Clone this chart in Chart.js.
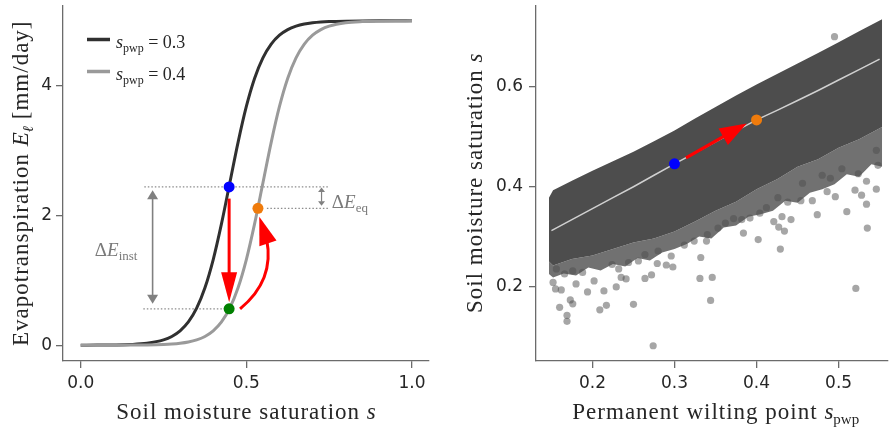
<!DOCTYPE html>
<html>
<head>
<meta charset="utf-8">
<script src="https://cdn.jsdelivr.net/npm/chart.js@4/dist/chart.umd.min.js"></script>
<style>
  html, body { margin: 0; padding: 0; background: #fff; }
  #wrap { position: relative; width: 893px; height: 438px; overflow: hidden; }
  #c1 { position: absolute; left: 0; top: 0; }
  #c2 { position: absolute; left: 440px; top: 0; }
</style>
</head>
<body>
<div id="wrap">
  <canvas id="c1" width="440" height="438"></canvas>
  <canvas id="c2" width="453" height="438"></canvas>
</div>
<script>
// ---- left panel: evapotranspiration curves ----
const sGrid = [0, 0.05, 0.1, 0.15, 0.2, 0.25, 0.275, 0.3, 0.325, 0.35, 0.375, 0.4, 0.425, 0.45, 0.475,
  0.5, 0.525, 0.55, 0.575, 0.6, 0.625, 0.65, 0.675, 0.7, 0.725, 0.75, 0.8, 0.85, 0.9, 0.95, 1.0];
const evapPwp03 = [0.0005, 0.0014, 0.0038, 0.0106, 0.0296, 0.0816, 0.1346, 0.221, 0.358, 0.570, 0.884, 1.320, 1.873, 2.5, 3.127,
  3.680, 4.116, 4.430, 4.642, 4.779, 4.865, 4.918, 4.951, 4.970, 4.982, 4.989, 4.996, 4.999, 5.0, 5.0, 5.0];
const evapPwp04 = [0.0001, 0.0002, 0.0005, 0.0014, 0.0038, 0.0106, 0.0177, 0.0296, 0.0492, 0.0816, 0.1346, 0.221, 0.358, 0.570, 0.884,
  1.320, 1.873, 2.5, 3.127, 3.680, 4.116, 4.430, 4.642, 4.779, 4.865, 4.918, 4.970, 4.989, 4.996, 4.999, 5.0];
const leftXTicks = [0, 0.5, 1.0];
const leftXLabels = ['0.0', '0.5', '1.0'];
const leftYTicks = [0, 2, 4];
const leftYLabels = ['0', '2', '4'];

// marked states: before (blue), instant (green), equilibrium (orange)
const markS = [0.448, 0.448, 0.535];
const markE = [2.44, 0.56, 2.11];
const markColors = ['#0000ff', '#008000', '#ef7b0c'];

// dotted guide lines [s0, s1, E]
const guideTop = [0.192, 0.748, 2.44];
const guideLow = [0.189, 0.448, 0.56];
const guideEq = [0.562, 0.748, 2.11];

// difference arrows
const instArrowS = 0.217, instArrowE = [2.39, 0.64];
const eqArrowS = 0.727, eqArrowE = [2.43, 2.15];
const dropArrow = [0.448, 2.26, 0.448, 0.66];        // s0, E0, s1, E1
const recoverArrow = [0.481, 0.56, 0.614, 1.116, 0.539, 1.98]; // start, control, tip

// ---- right panel: s vs s_pwp scatter ----
const cloudX = [0.147, 0.152, 0.175, 0.2, 0.225, 0.25, 0.275, 0.3, 0.325, 0.35, 0.375, 0.4, 0.425, 0.45, 0.475, 0.5, 0.525, 0.553];
const cloudTop = [0.378, 0.393, 0.412, 0.432, 0.451, 0.470, 0.491, 0.513, 0.537, 0.560, 0.583, 0.605, 0.626, 0.647, 0.668, 0.690, 0.712, 0.736];
const cloudLow = [0.250, 0.242, 0.255, 0.262, 0.275, 0.288, 0.296, 0.310, 0.330, 0.352, 0.370, 0.395, 0.415, 0.440, 0.455, 0.478, 0.495, 0.520];
// ragged lower edge of the cloud
const fringeX = [0.147, 0.152, 0.165, 0.18, 0.195, 0.21, 0.225, 0.24, 0.255, 0.27, 0.285, 0.3, 0.315, 0.33, 0.345,
  0.36, 0.375, 0.39, 0.405, 0.42, 0.435, 0.45, 0.465, 0.48, 0.495, 0.51, 0.525, 0.54, 0.553];
const fringeY = [0.225, 0.218, 0.226, 0.222, 0.238, 0.232, 0.245, 0.240, 0.257, 0.252, 0.268, 0.275, 0.285, 0.300, 0.296,
  0.318, 0.322, 0.340, 0.345, 0.352, 0.372, 0.368, 0.388, 0.395, 0.405, 0.425, 0.420, 0.445, 0.440];
const outlierX = [0.152, 0.155, 0.162, 0.160, 0.169, 0.169, 0.173, 0.176, 0.180, 0.194, 0.209, 0.217, 0.214, 0.229,
  0.235, 0.241, 0.250, 0.264, 0.272, 0.274, 0.298, 0.290, 0.279, 0.331, 0.332, 0.312, 0.324, 0.176, 0.188, 0.202,
  0.166, 0.156, 0.232, 0.244, 0.256, 0.224, 0.264, 0.280, 0.296, 0.346, 0.344, 0.384, 0.402, 0.429, 0.434, 0.427,
  0.421, 0.442, 0.431, 0.474, 0.510, 0.535, 0.521, 0.534, 0.546, 0.548, 0.528, 0.520, 0.496, 0.486, 0.468, 0.454,
  0.438, 0.426, 0.412, 0.404, 0.392, 0.382, 0.372, 0.362, 0.353, 0.340, 0.339, 0.456, 0.490, 0.534, 0.524, 0.504,
  0.546, 0.480, 0.495];
const outlierY = [0.208, 0.195, 0.193, 0.158, 0.142, 0.130, 0.173, 0.165, 0.205, 0.189, 0.153, 0.162, 0.191, 0.199,
  0.218, 0.215, 0.164, 0.216, 0.223, 0.081, 0.239, 0.243, 0.246, 0.216, 0.258, 0.283, 0.291, 0.231, 0.228, 0.211,
  0.225, 0.235, 0.235, 0.248, 0.251, 0.244, 0.264, 0.271, 0.261, 0.218, 0.172, 0.307, 0.294, 0.275, 0.311, 0.319,
  0.330, 0.334, 0.340, 0.344, 0.350, 0.317, 0.196, 0.365, 0.395, 0.443, 0.383, 0.393, 0.380, 0.390, 0.372, 0.372,
  0.369, 0.378, 0.358, 0.347, 0.337, 0.334, 0.336, 0.327, 0.317, 0.304, 0.291, 0.407, 0.417, 0.411, 0.426, 0.436,
  0.473, 0.423, 0.701];
const medianX = [0.15, 0.175, 0.2, 0.225, 0.25, 0.275, 0.3, 0.325, 0.35, 0.375, 0.4, 0.425, 0.45, 0.475, 0.5, 0.525, 0.55];
const medianY = [0.312, 0.334, 0.356, 0.378, 0.400, 0.423, 0.446, 0.468, 0.490, 0.512, 0.534, 0.553, 0.573, 0.593, 0.614, 0.635, 0.656];
const pwpMarks = [0.3, 0.4];
const sMarks = [0.446, 0.534];
const shiftArrow = [0.314, 0.458, 0.388, 0.527];
const rightXTicks = [0.2, 0.3, 0.4, 0.5];
const rightYTicks = [0.2, 0.4, 0.6];

const AX = '#6b6b6b';
const SERIF = '"Liberation Serif", "DejaVu Serif", serif';
const SANS = '"DejaVu Sans", sans-serif';
const TITLE = '23px ' + SERIF, TITLE_IT = 'italic 23px ' + SERIF, TITLE_SUB = '15px ' + SERIF;

const pts = (xs, ys) => xs.map((v, i) => ({x: v, y: ys[i]}));

// draw text made of several pieces (italic, subscripts...)
function richText(ctx, parts, x, y, align, angle, color) {
  ctx.save();
  ctx.translate(x, y);
  if (angle) ctx.rotate(angle);
  ctx.textBaseline = 'alphabetic';
  ctx.textAlign = 'left';
  let w = 0;
  parts.forEach(p => {
    ctx.font = p.f;
    ctx.letterSpacing = p.ls || '0px';
    p.w = ctx.measureText(p.t).width;
    w += p.w;
  });
  let cx = align === 'center' ? -w / 2 : align === 'right' ? -w : 0;
  ctx.fillStyle = color || '#262626';
  parts.forEach(p => {
    ctx.font = p.f;
    ctx.letterSpacing = p.ls || '0px';
    ctx.fillText(p.t, cx, p.dy || 0);
    cx += p.w;
  });
  ctx.restore();
}

function arrowHead(ctx, tx, ty, ux, uy, len, hw) {
  const bx = tx - ux * len, by = ty - uy * len;
  ctx.beginPath();
  ctx.moveTo(tx, ty);
  ctx.lineTo(bx - uy * hw, by + ux * hw);
  ctx.lineTo(bx + uy * hw, by - ux * hw);
  ctx.closePath();
  ctx.fill();
}

function straightArrow(ctx, x0, y0, x1, y1, o) {
  const dx = x1 - x0, dy = y1 - y0, L = Math.hypot(dx, dy), ux = dx / L, uy = dy / L;
  ctx.save();
  ctx.strokeStyle = o.color; ctx.fillStyle = o.color; ctx.lineWidth = o.width;
  let sx = x0, sy = y0;
  if (o.both) { sx = x0 + ux * o.len * 0.9; sy = y0 + uy * o.len * 0.9; }
  ctx.beginPath();
  ctx.moveTo(sx, sy);
  ctx.lineTo(x1 - ux * o.len * 0.9, y1 - uy * o.len * 0.9);
  ctx.stroke();
  arrowHead(ctx, x1, y1, ux, uy, o.len, o.hw);
  if (o.both) arrowHead(ctx, x0, y0, -ux, -uy, o.len, o.hw);
  ctx.restore();
}

function curvedArrow(ctx, p0, c, p2, o) {
  const B = t => [(1 - t) * (1 - t) * p0[0] + 2 * (1 - t) * t * c[0] + t * t * p2[0],
                  (1 - t) * (1 - t) * p0[1] + 2 * (1 - t) * t * c[1] + t * t * p2[1]];
  let t = 1;
  while (t > 0 && Math.hypot(B(t)[0] - p2[0], B(t)[1] - p2[1]) < o.len * 0.85) t -= 0.005;
  const c1 = [p0[0] + (c[0] - p0[0]) * t, p0[1] + (c[1] - p0[1]) * t];
  const e = B(t);
  ctx.save();
  ctx.strokeStyle = o.color; ctx.fillStyle = o.color; ctx.lineWidth = o.width;
  ctx.beginPath();
  ctx.moveTo(p0[0], p0[1]);
  ctx.quadraticCurveTo(c1[0], c1[1], e[0], e[1]);
  ctx.stroke();
  const dx = p2[0] - e[0], dy = p2[1] - e[1], L = Math.hypot(dx, dy);
  arrowHead(ctx, p2[0], p2[1], dx / L, dy / L, o.len, o.hw);
  ctx.restore();
}

function axisOpts(min, max, tickVals, labels, size, pad) {
  return {
    type: 'linear', min: min, max: max,
    afterBuildTicks: s => { s.ticks = tickVals.map(v => ({value: v})); },
    afterFit: s => {
      if (s.isHorizontal()) s.height = size; else s.width = size;
      s.paddingTop = 0; s.paddingBottom = 0; s.paddingLeft = 0; s.paddingRight = 0;
    },
    ticks: {
      callback: (v, i) => labels[i],
      font: {family: SANS, size: 17}, color: '#262626', padding: pad,
      maxRotation: 0, autoSkip: false
    },
    grid: {display: true, drawOnChartArea: false, drawTicks: true, tickLength: 7, color: AX, lineWidth: 1.3},
    border: {display: true, color: AX, width: 1.3}
  };
}

const leftDeco = {
  id: 'leftDeco',
  afterDatasetsDraw(chart) {
    const {ctx, chartArea: a, scales: {x, y}} = chart;
    const X = v => x.getPixelForValue(v), Y = v => y.getPixelForValue(v);
    straightArrow(ctx, X(instArrowS), Y(instArrowE[0]), X(instArrowS), Y(instArrowE[1]),
      {color: '#808080', width: 1.6, len: 9, hw: 5.5, both: true});
    straightArrow(ctx, X(eqArrowS), Y(eqArrowE[0]), X(eqArrowS), Y(eqArrowE[1]),
      {color: '#808080', width: 1.2, len: 4.5, hw: 3.5, both: true});
    straightArrow(ctx, X(dropArrow[0]), Y(dropArrow[1]), X(dropArrow[2]), Y(dropArrow[3]),
      {color: '#ff0000', width: 3, len: 30, hw: 8});
    curvedArrow(ctx, [X(recoverArrow[0]), Y(recoverArrow[1])], [X(recoverArrow[2]), Y(recoverArrow[3])],
      [X(recoverArrow[4]), Y(recoverArrow[5])], {color: '#ff0000', width: 3, len: 28, hw: 9});

    richText(ctx, [{t: 'Δ', f: '19px ' + SERIF}, {t: 'E', f: 'italic 19px ' + SERIF},
      {t: 'inst', f: '13px ' + SERIF, dy: 4}], X(0.107), Y(1.48) + 7, 'center', 0, '#7a7a7a');
    richText(ctx, [{t: 'Δ', f: '19px ' + SERIF}, {t: 'E', f: 'italic 19px ' + SERIF},
      {t: 'eq', f: '13px ' + SERIF, dy: 4}], X(0.758), Y(2.23) + 7, 'left', 0, '#7a7a7a');

    // legend
    const leg = [['#303030', '0.3'], ['#9a9a9a', '0.4']];
    leg.forEach((l, i) => {
      const ly = a.top + 34 + i * 32;
      ctx.save();
      ctx.strokeStyle = l[0]; ctx.lineWidth = 3.5;
      ctx.beginPath(); ctx.moveTo(a.left + 24, ly); ctx.lineTo(a.left + 47, ly); ctx.stroke();
      ctx.restore();
      richText(ctx, [{t: 's', f: 'italic 18px ' + SERIF}, {t: 'pwp', f: '12px ' + SERIF, dy: 4},
        {t: ' = ' + l[1], f: '18px ' + SERIF}], a.left + 53, ly + 8, 'left', 0, '#262626');
    });
  },
  afterDraw(chart) {
    const {ctx, chartArea: a} = chart;
    richText(ctx, [{t: 'Soil moisture saturation ', f: TITLE, ls: '1px'}, {t: 's', f: TITLE_IT}],
      (a.left + a.right) / 2, a.bottom + 58, 'center', 0);
    richText(ctx, [{t: 'Evapotranspiration ', f: TITLE, ls: '1px'}, {t: 'E', f: TITLE_IT},
      {t: 'ℓ', f: 'italic ' + TITLE_SUB, dy: 5}, {t: ' [mm/day]', f: TITLE, ls: '1px'}],
      a.left - 35, (a.top + a.bottom) / 2, 'center', -Math.PI / 2);
  }
};

const rightDeco = {
  id: 'rightDeco',
  afterDatasetsDraw(chart) {
    const {ctx, scales: {x, y}} = chart;
    straightArrow(ctx, x.getPixelForValue(shiftArrow[0]), y.getPixelForValue(shiftArrow[1]),
      x.getPixelForValue(shiftArrow[2]), y.getPixelForValue(shiftArrow[3]),
      {color: '#ff0000', width: 3.2, len: 27, hw: 9.5});
  },
  afterDraw(chart) {
    const {ctx, chartArea: a} = chart;
    richText(ctx, [{t: 'Permanent wilting point ', f: TITLE, ls: '1px'}, {t: 's', f: TITLE_IT},
      {t: 'pwp', f: TITLE_SUB, dy: 5}], (a.left + a.right) / 2 + 4, a.bottom + 58, 'center', 0);
    richText(ctx, [{t: 'Soil moisture saturation ', f: TITLE, ls: '1px'}, {t: 's', f: TITLE_IT}],
      a.left - 54, (a.top + a.bottom) / 2, 'center', -Math.PI / 2);
  }
};

const common = {
  responsive: false, animation: false, devicePixelRatio: 1,
  plugins: {legend: {display: false}, tooltip: {enabled: false}},
  elements: {point: {radius: 0}}
};

new Chart(document.getElementById('c1'), {
  type: 'line',
  data: {
    datasets: [
      {data: pts(markS, markE), type: 'scatter', pointRadius: 5.5, pointBackgroundColor: markColors,
        pointBorderWidth: 0, showLine: false, order: 0},
      {data: pts(sGrid, evapPwp03), borderColor: '#303030', borderWidth: 3, cubicInterpolationMode: 'monotone', order: 3},
      {data: pts(sGrid, evapPwp04), borderColor: '#9a9a9a', borderWidth: 3, cubicInterpolationMode: 'monotone', order: 2},
      {data: [{x: guideTop[0], y: guideTop[2]}, {x: guideTop[1], y: guideTop[2]}], borderColor: '#8c8c8c',
        borderWidth: 1.2, borderDash: [1.5, 2], order: 5},
      {data: [{x: guideLow[0], y: guideLow[2]}, {x: guideLow[1], y: guideLow[2]}], borderColor: '#8c8c8c',
        borderWidth: 1.2, borderDash: [1.5, 2], order: 5},
      {data: [{x: guideEq[0], y: guideEq[2]}, {x: guideEq[1], y: guideEq[2]}], borderColor: '#8c8c8c',
        borderWidth: 1.2, borderDash: [1.5, 2], order: 5}
    ]
  },
  options: Object.assign({}, common, {
    layout: {padding: {left: 0, top: 2, right: 11, bottom: 0}},
    scales: {
      x: axisOpts(-0.0535, 1.0514, leftXTicks, leftXLabels, 77, 5),
      y: axisOpts(-0.244, 5.237, leftYTicks, leftYLabels, 63, 4)
    }
  }),
  plugins: [leftDeco]
});

new Chart(document.getElementById('c2'), {
  type: 'line',
  data: {
    datasets: [
      {data: pts(fringeX, fringeY), borderWidth: 0, fill: false, order: 9},
      {data: pts(cloudX, cloudLow), borderWidth: 0, fill: '-1', backgroundColor: 'rgba(77,77,77,0.8)', order: 8},
      {data: pts(cloudX, cloudTop), borderWidth: 0, fill: '-1', backgroundColor: '#4d4d4d', order: 7},
      {data: pts(outlierX, outlierY), type: 'scatter', pointRadius: 3.6, pointBorderWidth: 0,
        pointBackgroundColor: 'rgba(77,77,77,0.5)', showLine: false, order: 6},
      {data: pts(medianX, medianY), borderColor: '#d0d0d0', borderWidth: 1.5, order: 2},
      {data: pts(pwpMarks, sMarks), type: 'scatter', pointRadius: 5.5, pointBorderWidth: 0,
        pointBackgroundColor: ['#0000ff', '#ef7b0c'], showLine: false, order: 0}
    ]
  },
  options: Object.assign({}, common, {
    layout: {padding: {left: 0, top: 2, right: 0, bottom: 0}},
    scales: {
      x: axisOpts(0.1312, 0.5596, rightXTicks, ['0.2', '0.3', '0.4', '0.5'], 77, 5),
      y: axisOpts(0.0504, 0.7635, rightYTicks, ['0.2', '0.4', '0.6'], 96, 6)
    }
  }),
  plugins: [rightDeco]
});
</script>
</body>
</html>
